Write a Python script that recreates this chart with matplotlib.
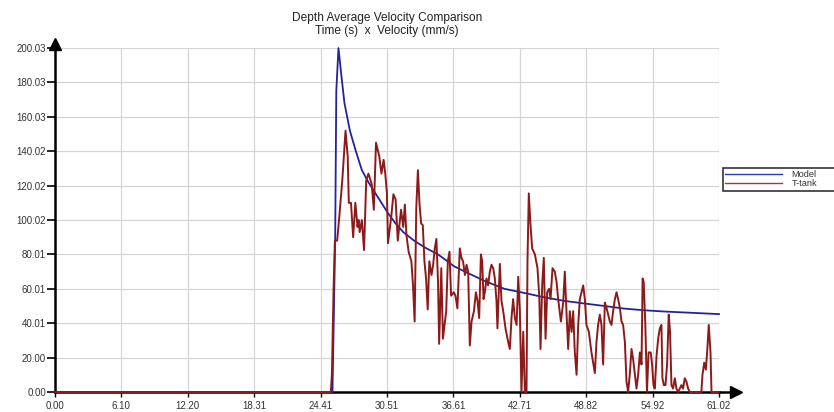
import matplotlib
matplotlib.use("Agg")
import matplotlib.pyplot as plt
from matplotlib import font_manager
from matplotlib.lines import Line2D

# ---------------- data ----------------
x_tick_labels = ["0.00", "6.10", "12.20", "18.31", "24.41", "30.51",
                 "36.61", "42.71", "48.82", "54.92", "61.02"]
y_tick_labels = ["0.00", "20.00", "40.01", "60.01", "80.01", "100.02",
                 "120.02", "140.02", "160.03", "180.03", "200.03"]

model_time = [0, 25.5, 25.75, 25.85, 26.05, 26.3, 26.6, 27.1, 27.6, 28.2, 28.8,
              29.4, 30.0, 30.6, 31.3, 32.0, 33.0, 34.0, 35.2, 36.7, 38.0, 39.5,
              41.3, 43.2, 45.0, 46.8, 48.6, 50.5, 52.3, 54.2, 56.0, 58.0, 60.0, 61.02]
model_vel = [0, 0, 90, 175, 200, 185, 168, 152, 141, 129, 122,
             116, 110, 104, 98, 93, 88, 84, 80, 73, 69, 64.5,
             60, 57.5, 55, 53, 51.5, 50, 48.5, 47.5, 46.8, 46.2, 45.6, 45.3]

ttank_time = [0, 25.35, 25.45, 25.6, 25.72, 25.93, 26.1, 26.4, 26.7, 26.9, 27.0,
              27.2, 27.4, 27.6, 27.8, 27.9, 28.0, 28.2, 28.4, 28.6, 28.8, 29.1,
              29.3, 29.5, 29.8, 30.0, 30.2, 30.35, 30.5, 30.6, 30.9, 31.1, 31.3,
              31.5, 31.8, 32.0, 32.15, 32.3, 32.5, 32.75, 32.9, 33.05, 33.2, 33.35,
              33.5, 33.65, 33.8, 33.95, 34.1, 34.25, 34.4, 34.6, 34.75, 34.9, 35.05,
              35.2, 35.3, 35.5, 35.65, 35.8, 35.95, 36.1, 36.25, 36.4, 36.65, 36.8,
              36.98, 37.2, 37.35, 37.5, 37.67, 37.82, 37.97, 38.12, 38.28, 38.5,
              38.68, 38.83, 38.98, 39.14, 39.26, 39.38, 39.5, 39.65, 39.8, 39.96,
              40.11, 40.27, 40.42, 40.57, 40.66, 40.79, 40.88, 41.03, 41.19, 41.4,
              41.65, 41.8, 41.95, 42.1, 42.26, 42.42, 42.57, 42.72, 42.87, 43.03,
              43.18, 43.33, 43.42, 43.54, 43.7, 43.85, 44.1, 44.34, 44.5, 44.62,
              44.77, 44.92, 45.08, 45.23, 45.41, 45.54, 45.72, 45.93, 46.09, 46.24,
              46.49, 46.7, 46.85, 47.0, 47.16, 47.31, 47.47, 47.62, 47.77, 47.93,
              48.08, 48.23, 48.39, 48.54, 48.69, 48.84, 49.06, 49.3, 49.46, 49.61,
              49.76, 49.91, 50.07, 50.22, 50.37, 50.53, 50.68, 50.83, 50.99, 51.14,
              51.29, 51.45, 51.6, 51.75, 51.91, 52.06, 52.21, 52.37, 52.52, 52.67,
              52.83, 52.98, 53.13, 53.29, 53.44, 53.59, 53.75, 53.9, 54.0, 54.1,
              54.25, 54.4, 54.55, 54.75, 54.87, 55.0, 55.12, 55.28, 55.43, 55.58,
              55.73, 55.82, 55.95, 56.1, 56.25, 56.4, 56.52, 56.65, 56.8, 56.96,
              57.11, 57.26, 57.42, 57.57, 57.72, 57.87, 58.03, 58.18, 58.33, 59.4,
              59.5, 59.66, 59.81, 59.93, 60.08, 60.24, 60.33, 61.0]
ttank_vel = [0, 0, 11, 60, 88, 88, 100, 123, 152, 137, 110,
             110, 90, 110, 96, 100, 93, 100, 82.5, 123, 127, 121,
             106, 145, 137, 127, 135, 127, 116, 86.5, 102, 115, 112,
             88, 106, 96, 109, 91, 81.5, 76, 62, 41, 107, 129,
             109, 98, 97, 76, 66, 48, 76, 68, 74, 83.5, 89,
             64, 28, 72, 31, 39, 47, 76, 81.5, 56, 58, 56,
             48.6, 83.5, 78, 76, 68, 74, 70, 27, 41, 47,
             58, 53, 43, 80, 76, 54, 58, 66, 62, 70,
             74, 72, 66, 53, 37, 60, 74.5, 53, 47, 37,
             29, 25, 43, 54, 43, 39, 67, 47, 0, 35,
             0, 0, 76, 115.5, 97, 83.5, 80, 72, 56, 25,
             62, 78, 31, 58, 60, 54, 72, 70, 64, 54,
             41, 52, 70, 47, 25, 47, 35, 47, 23, 10,
             39, 54, 58, 62, 54, 39, 35, 23, 17, 11,
             29, 39, 45, 39, 16, 52, 49, 45, 41, 39,
             47, 54, 58, 54, 49, 41, 39, 29, 6, 0,
             11, 25, 19, 10, 2, 10, 23, 16, 66, 64,
             39, 0, 23, 23, 16, 4, 2, 21, 31, 37,
             39, 8, 4, 4, 16, 45, 35, 4, 2, 8,
             2, 0, 2, 4, 2, 8, 6, 2, 0, 0,
             10, 17, 13, 23, 39, 23, 0, 0]

series_names = ["Model", "T-tank"]

# ---------------- fonts ----------------
names = {f.name for f in font_manager.fontManager.ttflist}
if "Liberation Sans Narrow" in names:
    tick_family = ["Liberation Sans Narrow", "DejaVu Sans"]
    tick_size = 7.8
else:
    tick_family = ["Liberation Sans", "DejaVu Sans"]
    tick_size = 7.0
title_family = ["Liberation Sans", "DejaVu Sans"]

W, H = 834, 412
fig = plt.figure(figsize=(W / 100, H / 100), dpi=100)
L, R, B, T = 55, 719, 392, 48
ax = fig.add_axes([L / W, 1 - B / H, (R - L) / W, (B - T) / H])

blue = "#24249a"
red = "#8c1a1a"

ax.plot(model_time, model_vel, color=blue, lw=1.3, zorder=4, clip_on=False,
        label=series_names[0])
ax.plot(ttank_time, ttank_vel, color=red, lw=1.4, zorder=5, clip_on=False,
        label=series_names[1])

xt = [float(s) for s in x_tick_labels]
yt = [float(s) for s in y_tick_labels]
ax.set_xlim(xt[0], xt[-1])
ax.set_ylim(yt[0], yt[-1])
ax.set_xticks(xt)
ax.set_xticklabels(x_tick_labels, family=tick_family, fontsize=tick_size, color="#333333")
ax.set_yticks(yt)
ax.set_yticklabels(y_tick_labels, family=tick_family, fontsize=tick_size, color="#333333")

ax.grid(True, color="#d6d6d6", lw=0.9, zorder=0)
ax.set_axisbelow(True)
for s in ("top", "right"):
    ax.spines[s].set_visible(False)
for s in ("left", "bottom"):
    ax.spines[s].set_color("black")
    ax.spines[s].set_linewidth(1.8)
    ax.spines[s].set_zorder(3)
ax.tick_params(axis="y", direction="out", length=6, width=1.2, pad=0.5, colors="black")
ax.tick_params(axis="x", direction="out", length=3.5, width=1.0, pad=3, colors="black")
for lab in ax.get_xticklabels() + ax.get_yticklabels():
    lab.set_color("#333333")

# axis arrows
ax.plot([1.0, 1.022], [0, 0], color="black", lw=1.8, transform=ax.transAxes,
        clip_on=False, zorder=3)
ax.plot(1.026, 0, marker=">", ms=8, color="black", transform=ax.transAxes,
        clip_on=False, zorder=3)
ax.plot([0, 0], [1.0, 1.008], color="black", lw=1.8, transform=ax.transAxes,
        clip_on=False, zorder=3)
ax.plot(0, 1.011, marker="^", ms=8, color="black", transform=ax.transAxes,
        clip_on=False, zorder=3)

# title
fig.text((L + R) / 2 / W, 1 - 24.5 / H,
         "Depth Average Velocity Comparison\nTime (s)  x  Velocity (mm/s)",
         ha="center", va="center", family=title_family, fontsize=8.6,
         linespacing=1.15, color="#222222")

# legend (box runs to the right edge of the picture, as in the reference)
handles = [Line2D([], [], color="#2a3aae", lw=1.0),
           Line2D([], [], color="#b03434", lw=1.0)]
leg = ax.legend(handles, series_names, loc="upper left",
                bbox_to_anchor=(723 / W, 1 - 190 / H, 114 / W, 22 / H),
                bbox_transform=fig.transFigure, mode="expand",
                borderaxespad=0, frameon=True, fancybox=False,
                prop={"family": tick_family, "size": 6.6},
                handlelength=6.2, handletextpad=1.0, borderpad=0.25,
                labelspacing=0.0, handleheight=0.5)
leg.get_frame().set_edgecolor("black")
leg.get_frame().set_linewidth(1.2)
for t in leg.get_texts():
    t.set_color("#333333")

fig.savefig("out.png", dpi=100)
